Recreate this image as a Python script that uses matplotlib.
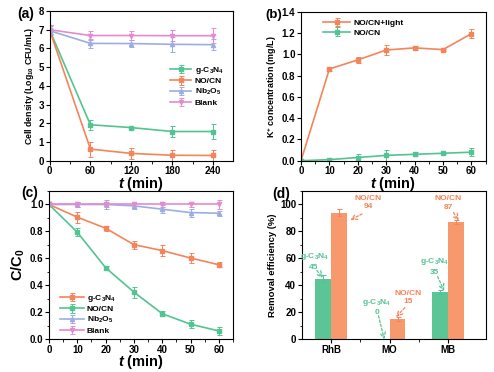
import matplotlib
matplotlib.use('Agg')
import matplotlib.pyplot as plt
import numpy as np
from matplotlib.ticker import AutoMinorLocator

plt.rcParams['font.family'] = ['Liberation Sans', 'DejaVu Sans']
plt.rcParams['font.weight'] = 'bold'
plt.rcParams['axes.labelweight'] = 'bold'
plt.rcParams['mathtext.fontset'] = 'custom'
plt.rcParams['mathtext.rm'] = 'Liberation Sans:bold'
plt.rcParams['mathtext.bf'] = 'Liberation Sans:bold'
plt.rcParams['mathtext.it'] = 'Liberation Sans:italic:bold'
plt.rcParams['mathtext.default'] = 'rm'

GREEN = '#52c492'
ORANGE = '#f5845a'
BLUE = '#9aaee4'
PINK = '#e58ad0'
BAR_GREEN = '#5cc596'
BAR_ORANGE = '#f7996c'

# (a) cell density
t_a = [0, 60, 120, 180, 240]
a_gcn = [7.0, 1.92, 1.77, 1.56, 1.56]
a_gcn_err = [0.25, 0.28, 0.05, 0.3, 0.4]
a_nocn = [7.0, 0.62, 0.39, 0.29, 0.28]
a_nocn_err = [0.25, 0.4, 0.3, 0.3, 0.3]
a_nb = [6.95, 6.27, 6.26, 6.22, 6.2]
a_nb_err = [0.25, 0.25, 0.2, 0.4, 0.3]
a_blank = [7.0, 6.69, 6.69, 6.68, 6.68]
a_blank_err = [0.25, 0.25, 0.25, 0.3, 0.4]

# (b) K+ concentration
t_b = [0, 10, 20, 30, 40, 50, 60]
b_light = [0.0, 0.862, 0.947, 1.04, 1.06, 1.044, 1.194]
b_light_err = [0.0, 0.02, 0.03, 0.05, 0.02, 0.01, 0.04]
b_dark = [0.0, 0.01, 0.03, 0.05, 0.06, 0.07, 0.08]
b_dark_err = [0.0, 0.02, 0.03, 0.05, 0.02, 0.01, 0.04]

# (c) C/C0
t_c = [0, 10, 20, 30, 40, 50, 60]
c_gcn = [1.0, 0.906, 0.824, 0.702, 0.658, 0.603, 0.553]
c_gcn_err = [0.0, 0.04, 0.02, 0.03, 0.04, 0.04, 0.02]
c_nocn = [1.0, 0.794, 0.531, 0.35, 0.19, 0.112, 0.062]
c_nocn_err = [0.0, 0.03, 0.01, 0.04, 0.02, 0.03, 0.03]
c_nb = [1.0, 1.0, 1.0, 0.99, 0.965, 0.94, 0.935]
c_nb_err = [0.0, 0.02, 0.03, 0.02, 0.03, 0.03, 0.02]
c_blank = [1.0, 1.0, 1.0, 1.0, 1.0, 1.0, 1.0]
c_blank_err = [0.0, 0.02, 0.02, 0.01, 0.02, 0.02, 0.03]

# (d) removal efficiency
dyes = ['RhB', 'MO', 'MB']
d_gcn = [45, 0, 35]
d_gcn_err = [2.5, 0, 1.5]
d_nocn = [94, 15, 87]
d_nocn_err = [2.5, 1.5, 1.5]

W, H = 494, 372
fig = plt.figure(figsize=(W / 100, H / 100), dpi=100)


def box(l, t, r, b):
    return [l / W, 1 - b / H, (r - l) / W, (b - t) / H]


def style(ax):
    ax.tick_params(direction='out', length=3, width=0.8, labelsize=7, pad=1)
    ax.tick_params(which='minor', direction='out', length=1.8, width=0.6)
    for s in ax.spines.values():
        s.set_linewidth(0.8)


def series(ax, x, y, err, color, marker, label):
    ax.errorbar(x, y, yerr=err, color=color, marker=marker, ms=3, lw=1.2,
                elinewidth=0.7, capsize=1.8, capthick=0.7, label=label)


xlab_kw = dict(fontsize=10.5, labelpad=-1)
tmin = r'$\mathit{t}$ (min)'
leg_kw = dict(frameon=False, fontsize=6, labelspacing=0.2, handletextpad=0.4)

# ---------- (a)
ax = fig.add_axes(box(49.5, 11, 233, 160.7))
style(ax)
series(ax, t_a, a_gcn, a_gcn_err, GREEN, 's', r'g-C$_3$N$_4$')
series(ax, t_a, a_nocn, a_nocn_err, ORANGE, 's', 'NO/CN')
series(ax, t_a, a_nb, a_nb_err, BLUE, '^', r'Nb$_2$O$_5$')
series(ax, t_a, a_blank, a_blank_err, PINK, 'v', 'Blank')
ax.set_xlim(0, 269)
ax.set_ylim(0, 8)
ax.set_xticks(t_a)
ax.set_yticks(range(0, 9))
ax.xaxis.set_minor_locator(AutoMinorLocator(2))
ax.set_xlabel(tmin, **xlab_kw)
ax.set_ylabel(r'Cell density $\left(Log_{10}\ CFU/mL\right)$', fontsize=6.3, labelpad=2)
ax.legend(loc='center right', bbox_to_anchor=(0.99, 0.5), handlelength=2.6, **leg_kw)
fig.text(17 / W, 1 - 14 / H, '(a)', fontsize=10, fontweight='bold', va='center')

# ---------- (b)
ax = fig.add_axes(box(301, 11.7, 485.7, 160.7))
style(ax)
series(ax, t_b, b_light, b_light_err, ORANGE, 's', 'NO/CN+light')
series(ax, t_b, b_dark, b_dark_err, GREEN, 's', 'NO/CN')
ax.set_xlim(0, 65)
ax.set_ylim(0, 1.4)
ax.set_xticks(t_b)
ax.set_yticks(np.arange(0, 1.41, 0.2))
ax.yaxis.set_major_formatter(plt.FormatStrFormatter('%.1f'))
ax.xaxis.set_minor_locator(AutoMinorLocator(2))
ax.set_xlabel(tmin, **xlab_kw)
ax.set_ylabel(r'K$^{+}$ concentration (mg/L)', fontsize=6.4, labelpad=2)
ax.legend(loc='upper left', bbox_to_anchor=(0.08, 1.0), handlelength=3.2, **leg_kw)
fig.text(265 / W, 1 - 15 / H, '(b)', fontsize=9.5, fontweight='bold', va='center')

# ---------- (c)
ax = fig.add_axes(box(49, 191, 233, 339.3))
style(ax)
series(ax, t_c, c_gcn, c_gcn_err, ORANGE, 's', r'g-C$_3$N$_4$')
series(ax, t_c, c_nocn, c_nocn_err, GREEN, 's', 'NO/CN')
series(ax, t_c, c_nb, c_nb_err, BLUE, '^', r'Nb$_2$O$_5$')
series(ax, t_c, c_blank, c_blank_err, PINK, 'v', 'Blank')
ax.set_xlim(0, 65)
ax.set_ylim(0, 1.1)
ax.set_xticks(t_c)
ax.set_yticks(np.arange(0, 1.01, 0.2))
ax.yaxis.set_major_formatter(plt.FormatStrFormatter('%.1f'))
ax.xaxis.set_minor_locator(AutoMinorLocator(2))
ax.yaxis.set_minor_locator(AutoMinorLocator(2))
ax.set_xlabel(tmin, **xlab_kw)
ax.set_ylabel(r'C/C$_0$', fontsize=10.5, labelpad=2)
ax.legend(loc='lower left', bbox_to_anchor=(0.02, -0.02), handlelength=2.8, **leg_kw)
fig.text(21 / W, 1 - 193 / H, '(c)', fontsize=10, fontweight='bold', va='center')

# ---------- (d)
ax = fig.add_axes(box(301.7, 191, 485.7, 339.3))
style(ax)
x = np.arange(len(dyes))
bw = 0.27
ax.bar(x - bw / 2, d_gcn, bw, yerr=d_gcn_err, color=BAR_GREEN, ecolor=GREEN,
       error_kw=dict(elinewidth=0.7, capsize=1.8, capthick=0.7))
ax.bar(x + bw / 2, d_nocn, bw, yerr=d_nocn_err, color=BAR_ORANGE, ecolor=ORANGE,
       error_kw=dict(elinewidth=0.7, capsize=1.8, capthick=0.7))
ax.set_xlim(-0.5, 2.64)
ax.set_ylim(0, 110)
ax.set_xticks(x)
ax.set_xticklabels(dyes)
ax.set_xticks([0.5, 1.5], minor=True)
ax.yaxis.set_minor_locator(AutoMinorLocator(2))
ax.set_ylabel('Removal efficiency (%)', fontsize=6.8, labelpad=2)

notes = [
    (r'g-C$_3$N$_4$', d_gcn[0], -0.29, 58, -0.24, 51, -0.14, 45.5, GREEN),
    ('NO/CN', d_nocn[0], 0.64, 101.5, 0.53, 93, 0.33, 88.5, ORANGE),
    (r'g-C$_3$N$_4$', d_gcn[1], 0.78, 24.5, 0.81, 17.5, 0.91, 0, GREEN),
    ('NO/CN', d_nocn[1], 1.32, 31, 1.26, 23.5, 1.11, 16.5, ORANGE),
    (r'g-C$_3$N$_4$', d_gcn[2], 1.77, 54.5, 1.82, 46.5, 1.93, 36, GREEN),
    ('NO/CN', d_nocn[2], 2.0, 101, 2.09, 94, 2.18, 88, ORANGE),
]
for name, val, tx, ty, ax0, ay0, ax1, ay1, col in notes:
    ax.text(tx, ty, f'{name}\n{val}', color=col, fontsize=6, ha='center',
            va='center', linespacing=1.3)
    ax.annotate('', xy=(ax1, ay1), xytext=(ax0, ay0),
                arrowprops=dict(arrowstyle='->', color=col, lw=0.9, ls=(0, (2, 1.5)),
                                shrinkA=0, shrinkB=0))
fig.text(272 / W, 1 - 194 / H, '(d)', fontsize=10, fontweight='bold', va='center')

fig.savefig('out.png', dpi=100)
